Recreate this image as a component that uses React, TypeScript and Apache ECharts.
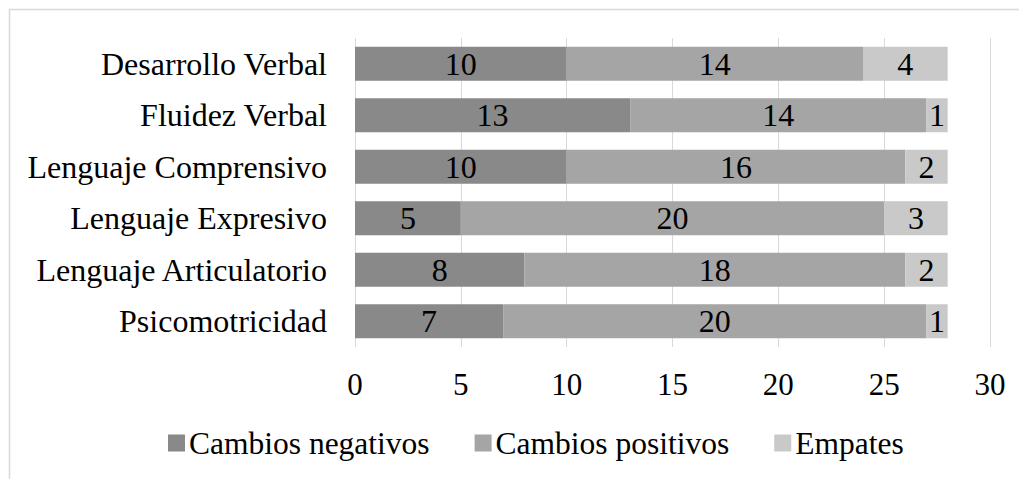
import React, { useEffect, useRef } from "react";
import * as echarts from "echarts";

const categories = [
  "Desarrollo Verbal",
  "Fluidez Verbal",
  "Lenguaje Comprensivo",
  "Lenguaje Expresivo",
  "Lenguaje Articulatorio",
  "Psicomotricidad",
];
const negativos = [10, 13, 10, 5, 8, 7];
const positivos = [14, 14, 16, 20, 18, 20];
const empates = [4, 1, 2, 3, 2, 1];
const seriesNames = ["Cambios negativos", "Cambios positivos", "Empates"];
const colors = ["#898989", "#a5a5a5", "#c9c9c9"];

const FONT = "Liberation Serif";

export default function App() {
  const ref = useRef<HTMLDivElement>(null);
  useEffect(() => {
    if (!ref.current) return;
    const chart = echarts.init(ref.current, null, { renderer: "svg" });
    const mk = (name: string, data: number[], color: string) => ({
      name,
      type: "bar",
      stack: "total",
      data,
      barCategoryGap: "34%",
      itemStyle: { color },
      label: {
        show: true,
        position: "inside",
        color: "#000",
        fontFamily: FONT,
        fontSize: 32,
        fontWeight: "normal",
      },
    });
    chart.setOption({
      animation: false,
      textStyle: { fontFamily: FONT, fontSize: 31 },
      graphic: [
        {
          type: "rect",
          shape: { x: 1.5, y: 1.5, width: 2000, height: 2000 },
          style: { fill: "none", stroke: "#d9d9d9", lineWidth: 1.5 },
          silent: true,
        },
      ],
      grid: { left: 347, top: 30, width: 635, height: 309, containLabel: false },
      xAxis: {
        type: "value",
        min: 0,
        max: 30,
        interval: 5,
        axisLine: { show: false },
        axisTick: { show: false },
        splitLine: { show: true, lineStyle: { color: "#d9d9d9", width: 1 } },
        axisLabel: { color: "#000", fontFamily: FONT, fontSize: 31, margin: 22 },
      },
      yAxis: {
        type: "category",
        data: categories,
        inverse: true,
        axisLine: { show: false },
        axisTick: { show: false },
        axisLabel: { color: "#000", fontFamily: FONT, fontSize: 32, margin: 28 },
      },
      legend: {
        data: seriesNames,
        top: 414,
        left: 155,
        icon: "rect",
        itemWidth: 17,
        itemHeight: 17,
        itemGap: 45,
        textStyle: { color: "#000", fontFamily: FONT, fontSize: 31.5, padding: [0, 0, 0, -1] },
      },
      series: [
        mk(seriesNames[0], negativos, colors[0]),
        mk(seriesNames[1], positivos, colors[1]),
        mk(seriesNames[2], empates, colors[2]),
      ],
    });
    return () => chart.dispose();
  }, []);
  return <div ref={ref} style={{ width: 1019, height: 471 }} />;
}
